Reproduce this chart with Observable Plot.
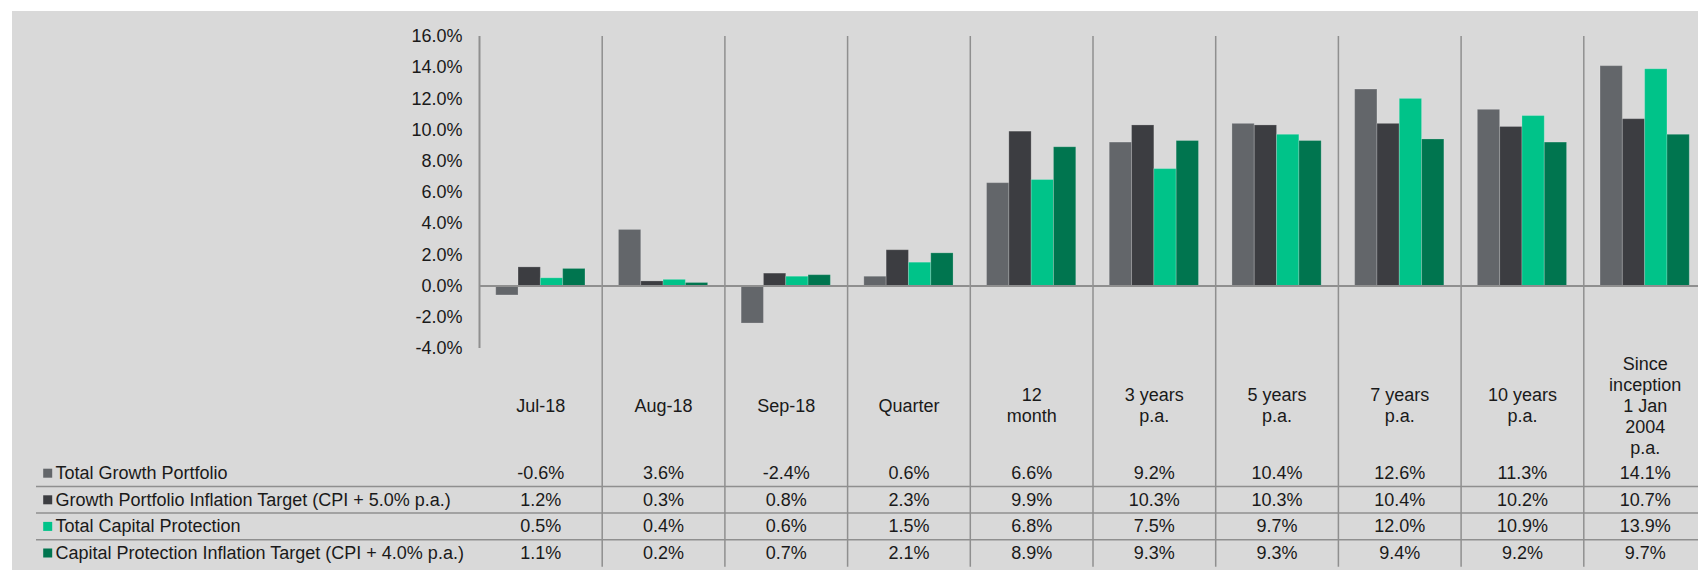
<!DOCTYPE html>
<html><head><meta charset="utf-8">
<script src="https://cdn.jsdelivr.net/npm/d3@7"></script>
<script src="https://cdn.jsdelivr.net/npm/@observablehq/plot@0.6"></script>
<style>
html,body{margin:0;padding:0;background:#fff;overflow:hidden;width:1698px;height:571px;}
#chart{position:absolute;left:12px;top:11px;width:1694px;height:559px;}
#chart svg{max-width:none !important;display:block;}
</style></head><body><div id="chart"></div>
<script>
// ---- data ----
const categories = ["Jul-18","Aug-18","Sep-18","Quarter","12 month","3 years p.a.","5 years p.a.","7 years p.a.","10 years p.a.","Since inception 1 Jan 2004 p.a."];
const categoryLabels = ["Jul-18","Aug-18","Sep-18","Quarter","12\nmonth","3 years\np.a.","5 years\np.a.","7 years\np.a.","10 years\np.a.","Since\ninception\n1 Jan\n2004\np.a."];
const seriesNames = ["Total Growth Portfolio","Growth Portfolio Inflation Target (CPI + 5.0% p.a.)","Total Capital Protection","Capital Protection Inflation Target (CPI + 4.0% p.a.)"];
const totalGrowth   = [-0.6, 3.6, -2.4, 0.6, 6.6, 9.2, 10.4, 12.6, 11.3, 14.1];
const growthTarget  = [1.2, 0.3, 0.8, 2.3, 9.9, 10.3, 10.3, 10.4, 10.2, 10.7];
const totalCapital  = [0.5, 0.4, 0.6, 1.5, 6.8, 7.5, 9.7, 12.0, 10.9, 13.9];
const capitalTarget = [1.1, 0.2, 0.7, 2.1, 8.9, 9.3, 9.3, 9.4, 9.2, 9.7];
const yTicks = [-4,-2,0,2,4,6,8,10,12,14,16];
const seriesColors = ["#63666a","#3c3d41","#00c389","#00754f"];

// ---- layout / style ----
const W = 1694, H = 559;
const mLeft = 467, mTop = 25, mBottom = 222, mRight = 0;
const step = (W - mLeft - mRight) / categories.length;
const labelDy = 56.5;          // category label block centre below plot bottom
const rowDy0 = 124.7, rowGap = 26.6;  // table rows below plot bottom
const tableBottom = 218.7;     // dividers extend this far below plot bottom
const lineLeft = 24;           // table rule start
const legendTextX = 43, legendSwatchX = 35.2;
const ink = "#1a1a1a", grid = "#8f8f8f";
const font = "'Liberation Sans', Arial, Helvetica, sans-serif";

const valuesBySeries = [totalGrowth, growthTarget, totalCapital, capitalTarget];
const rows = seriesNames.flatMap((s, i) => categories.map((c, j) => ({series: s, category: c, value: valuesBySeries[i][j]})));
const fmt = v => v.toFixed(1) + "%";

const marks = [
  Plot.barY(rows, {fx: "category", x: "series", y: "value", fill: "series", stroke: "#ffffff", strokeOpacity: 0.2, strokeWidth: 1}),
  Plot.ruleY([0], {stroke: grid, strokeWidth: 2}),
  Plot.ruleX(categories.slice(1), {fx: d => d, x: null, dx: -step / 2, insetBottom: -tableBottom, stroke: grid, strokeWidth: 1.5}),
  Plot.ruleX(categories.slice(0, 1), {fx: d => d, x: null, dx: -step / 2, stroke: grid, strokeWidth: 2}),
  Plot.text(categories, {fx: d => d, text: d => categoryLabels[categories.indexOf(d)], frameAnchor: "bottom", lineAnchor: "middle", dy: labelDy, lineHeight: 1.17, fill: ink, fontSize: 18}),
  ...seriesNames.map((s, i) => Plot.text(rows.filter(d => d.series === s), {fx: "category", text: d => fmt(d.value), frameAnchor: "bottom", lineAnchor: "middle", dy: rowDy0 + i * rowGap, fill: ink, fontSize: 18})),
  ...[0, 1, 2].map(i => Plot.ruleY(categories.slice(0, 1), {fx: d => d, y: () => yTicks[0], dy: rowDy0 + i * rowGap + rowGap / 2, insetLeft: -(mLeft - lineLeft), insetRight: -(W - mLeft - mRight - step), stroke: grid, strokeWidth: 1.5})),
  ...seriesNames.map((s, i) => Plot.text([s], {facet: "super", text: d => d, frameAnchor: "bottom-left", lineAnchor: "middle", textAnchor: "start", dx: legendTextX - mLeft, dy: rowDy0 + i * rowGap, fill: ink, fontSize: 18})),
  ...seriesNames.map((s, i) => Plot.dot([s], {facet: "super", frameAnchor: "bottom-left", symbol: "square", r: 5.08, fill: seriesColors[i], stroke: "none", dx: legendSwatchX - mLeft, dy: rowDy0 + i * rowGap}))
];

const chart = Plot.plot({
  width: W, height: H,
  marginLeft: mLeft, marginRight: mRight, marginTop: mTop, marginBottom: mBottom,
  style: {background: "#d9d9d9", fontSize: "18px", fontFamily: font, color: ink, maxWidth: "none"},
  fx: {domain: categories, padding: 0, round: false, axis: null},
  x: {domain: seriesNames, paddingInner: 0, paddingOuter: 0.75, round: false, axis: null},
  y: {domain: [yTicks[0], yTicks[yTicks.length - 1]], ticks: yTicks, tickFormat: fmt, tickSize: 0, tickPadding: 17, label: null},
  color: {domain: seriesNames, range: seriesColors},
  marks
});
document.getElementById("chart").appendChild(chart);
</script></body></html>
